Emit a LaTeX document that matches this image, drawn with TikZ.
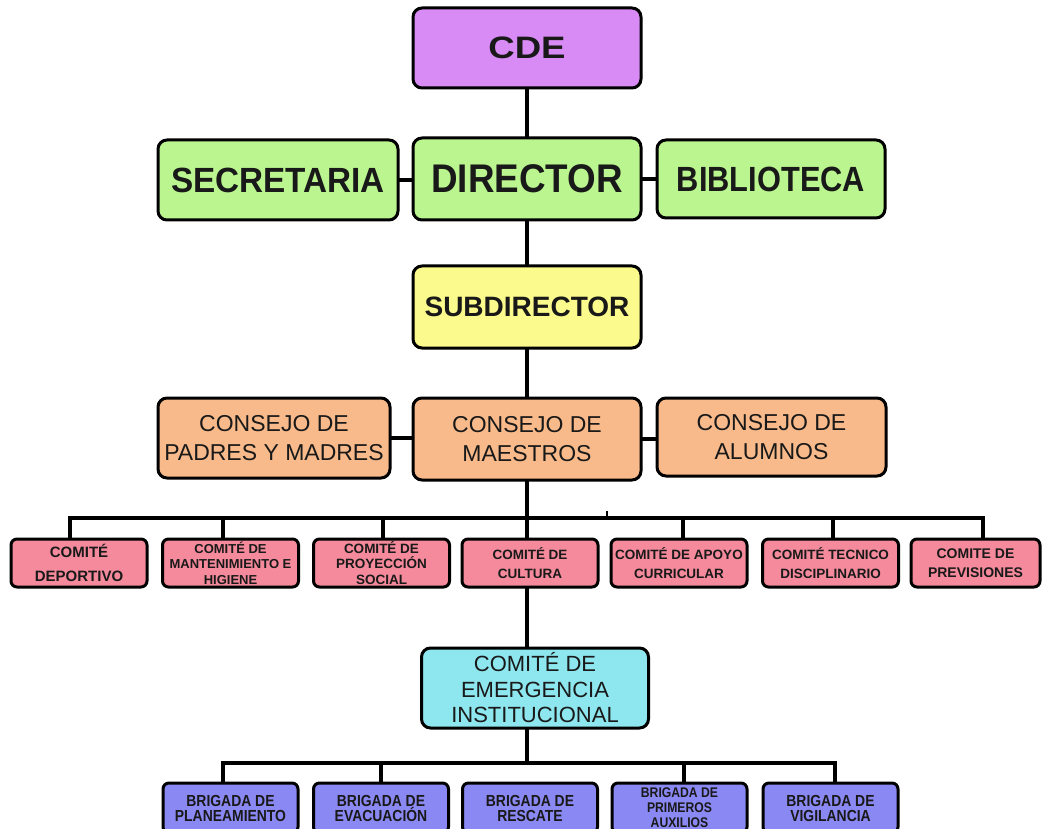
\documentclass[tikz,border=0pt]{standalone}
\usepackage{fontspec}
\setmainfont{Liberation Sans}
\newfontfamily\wideA[FakeStretch=1.18]{Liberation Sans}
\newfontfamily\condA[FakeStretch=0.92]{Liberation Sans}
\newfontfamily\condB[FakeStretch=0.95]{Liberation Sans}
\newfontfamily\condC[FakeStretch=0.88]{Liberation Sans}
\newfontfamily\condD[FakeStretch=0.87]{Liberation Sans}
\definecolor{cdecol}{HTML}{D88AF5}
\definecolor{greencol}{HTML}{BAF58F}
\definecolor{yellowcol}{HTML}{FBFA8C}
\definecolor{orangecol}{HTML}{F8BA8A}
\definecolor{pinkcol}{HTML}{F48A9B}
\definecolor{cyancol}{HTML}{8EE6EE}
\definecolor{bluecol}{HTML}{8A88F2}
\begin{document}
\begin{tikzpicture}[x=1pt,y=-1pt,
  box/.style={draw=black, line width=3pt, rounded corners=9pt, inner sep=0pt, align=center, text=black!90},
  bigbox/.style={box, minimum width=228pt, minimum height=80pt},
  consejo/.style={box, fill=orangecol, minimum height=80pt, font=\fontsize{23}{29}\selectfont},
  comite/.style={box, rounded corners=6pt, fill=pinkcol, minimum width=136pt, minimum height=48pt, font=\bfseries\fontsize{13.5}{15.5}\selectfont},
  brigada/.style={box, rounded corners=6pt, fill=bluecol, minimum width=135pt, minimum height=50pt, font=\condD\bfseries\fontsize{16}{15}\selectfont},
  conn/.style={line width=3.2pt, black, line cap=rect}
]
\useasboundingbox (0,0) rectangle (1042,829);
\fill[white] (0,0) rectangle (1042,829);

% top
\node[bigbox, fill=cdecol] (cde) at (527,48) {\wideA\bfseries\fontsize{31}{36}\selectfont CDE};
\node[bigbox, fill=greencol, minimum height=82pt] (director) at (527,179) {\condA\bfseries\fontsize{40}{44}\selectfont DIRECTOR};
\node[box, fill=greencol, minimum width=240pt, minimum height=80pt] (secretaria) at (278,180) {\condB\bfseries\fontsize{35}{40}\selectfont SECRETARIA};
\node[box, fill=greencol, minimum width=228pt, minimum height=78pt] (biblioteca) at (771,179) {\condC\bfseries\fontsize{35}{40}\selectfont BIBLIOTECA};
\node[bigbox, fill=yellowcol, minimum height=82pt] (subdirector) at (527,307) {\bfseries\fontsize{28}{34}\selectfont SUBDIRECTOR};

% consejos
\node[consejo, minimum width=232pt] (padres) at (274,438) {CONSEJO DE\\PADRES Y MADRES};
\node[consejo, minimum width=228pt, minimum height=82pt] (maestros) at (527,439) {CONSEJO DE\\MAESTROS};
\node[consejo, minimum width=229pt, minimum height=78pt] (alumnos) at (771.5,437) {CONSEJO DE\\ALUMNOS};

% comites
\node[comite, font=\bfseries\fontsize{15}{17}\selectfont] (deportivo) at (79,563) {COMITÉ\\[7pt]DEPORTIVO};
\node[comite, font=\bfseries\fontsize{13}{15.5}\selectfont] (mantenimiento) at (230.5,563) {COMITÉ DE\\MANTENIMIENTO E\\HIGIENE};
\node[comite, font=\bfseries\fontsize{13.5}{15.5}\selectfont] (proyeccion) at (381.5,563) {COMITÉ DE\\PROYECCIÓN\\SOCIAL};
\node[comite] (cultura) at (530,563) {COMITÉ DE\\[3.5pt]CULTURA};
\node[comite] (apoyo) at (679,563) {COMITÉ DE APOYO\\[3.5pt]CURRICULAR};
\node[comite] (tecnico) at (830.5,563) {COMITÉ TECNICO\\[3.5pt]DISCIPLINARIO};
\node[comite, minimum width=129pt, font=\bfseries\fontsize{14}{16}\selectfont] (previsiones) at (975.5,563) {COMITE DE\\[3pt]PREVISIONES};

% emergencia
\node[box, fill=cyancol, minimum width=227pt, minimum height=80pt, font=\fontsize{22}{25.5}\selectfont] (emergencia) at (535,688) {COMITÉ DE\\EMERGENCIA\\INSTITUCIONAL};

% brigadas
\node[brigada] (planeamiento) at (230.5,808) {BRIGADA DE\\PLANEAMIENTO};
\node[brigada] (evacuacion) at (381,808) {BRIGADA DE\\EVACUACIÓN};
\node[brigada] (rescate) at (530,808) {BRIGADA DE\\RESCATE};
\node[brigada, font=\condD\bfseries\fontsize{14}{15}\selectfont] (primeros) at (679.5,808) {BRIGADA DE\\PRIMEROS\\AUXILIOS};
\node[brigada] (vigilancia) at (830.5,808) {BRIGADA DE\\VIGILANCIA};

% connectors top part
\draw[conn] (cde.south) -- (director.north);
\draw[conn] (director.south) -- (subdirector.north);
\draw[conn] (subdirector.south) -- (maestros.north);
\draw[conn] (secretaria.east) -- (secretaria.east -| director.west);
\draw[conn] (director.east) -- (director.east -| biblioteca.west);
\draw[conn] (padres.east) -- (padres.east -| maestros.west);
\draw[conn] (maestros.east) -- (maestros.east -| alumnos.west);

% committee bus
\coordinate (cl) at (70,518);
\coordinate (cr) at (983,518);
\coordinate (tick) at (607,511);
\draw[conn] (maestros.south) -- (maestros.south |- cultura.north);
\draw[conn, line cap=butt] (deportivo.north -| cl) -- (cl) -- (cr) -- (previsiones.north -| cr);
\draw[conn] ([xshift=-7.5pt]mantenimiento.north) -- ([xshift=-7.5pt]mantenimiento.north |- cl);
\draw[conn] ([xshift=1.5pt]proyeccion.north) -- ([xshift=1.5pt]proyeccion.north |- cl);
\draw[conn] ([xshift=4pt]apoyo.north) -- ([xshift=4pt]apoyo.north |- cl);
\draw[conn] ([xshift=2.5pt]tecnico.north) -- ([xshift=2.5pt]tecnico.north |- cl);
\draw[line width=2pt, black] (tick) -- (tick |- cl);

% emergencia connectors
\draw[conn] (cultura.south -| maestros.south) -- (emergencia.north -| maestros.south);
\coordinate (bl) at (223,763);
\coordinate (br) at (835,763);
\draw[conn] (emergencia.south -| maestros.south) -- (bl -| maestros.south);
\draw[conn, line cap=butt] (planeamiento.north -| bl) -- (bl) -- (br) -- (vigilancia.north -| br);
\draw[conn] (evacuacion.north) -- (evacuacion.north |- bl);
\draw[conn] ([xshift=4.5pt]primeros.north) -- ([xshift=4.5pt]primeros.north |- bl);
\end{tikzpicture}
\end{document}
